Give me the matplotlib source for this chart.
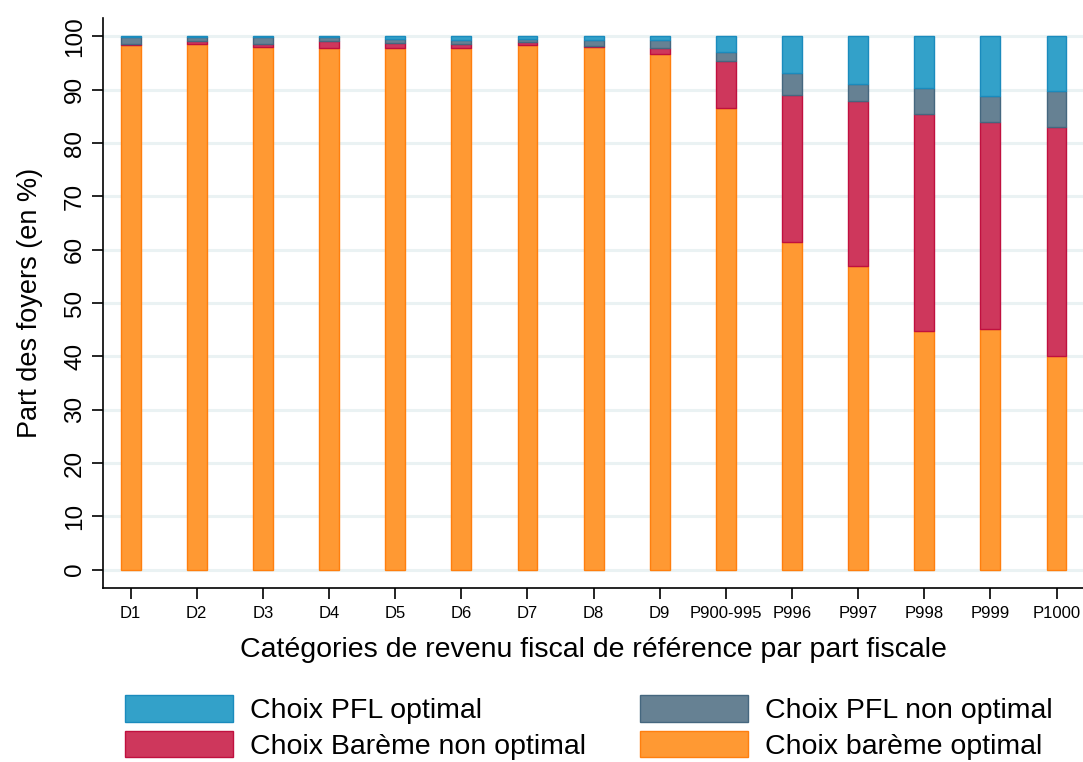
from matplotlib import pyplot as plt
import numpy as np

plt.rcParams['font.family'] = ['Liberation Sans', 'DejaVu Sans']

#### Données ####
categories = ['D1', 'D2', 'D3', 'D4', 'D5', 'D6', 'D7', 'D8', 'D9',
              'P900-995', 'P996', 'P997', 'P998', 'P999', 'P1000']
bareme_optimal = [98.4, 98.5, 98.1, 97.9, 97.75, 97.75, 98.4, 98.0, 96.75,
                  86.6, 61.5, 57.0, 44.8, 45.2, 40.0]
bareme_non_optimal = [0.2, 0.6, 0.5, 1.2, 1.05, 0.85, 0.6, 0.25, 1.15,
                      8.7, 27.6, 30.8, 40.7, 38.8, 43.1]
pfl_non_optimal = [1.3, 0.8, 1.2, 0.7, 0.8, 0.8, 0.6, 1.0, 1.35,
                   1.7, 4.1, 3.3, 4.75, 4.9, 6.7]
pfl_optimal = [0.1, 0.1, 0.2, 0.2, 0.4, 0.6, 0.4, 0.75, 0.75,
               3.0, 6.8, 8.9, 9.75, 11.1, 10.2]

series = [
    (bareme_optimal, u'Choix barème optimal', '#ff9933', '#ff7f0e'),
    (bareme_non_optimal, u'Choix Barème non optimal', '#ce375c', '#c0103f'),
    (pfl_non_optimal, u'Choix PFL non optimal', '#668193', '#45677f'),
    (pfl_optimal, u'Choix PFL optimal', '#33a1c9', '#1a8bbd'),
]

fig = plt.figure(figsize=(10.83, 7.62), dpi=100)
ax = fig.add_axes([0.095, 0.228, 0.905, 0.748])

x = np.arange(len(categories))
bas = np.zeros(len(categories))
barres = {}
for vals, nom, coul, bord in series:
    vals = np.array(vals)
    barres[nom] = ax.bar(x, vals, width=0.3, bottom=bas, color=coul,
                         edgecolor=bord, linewidth=1, label=nom, zorder=3)
    bas = bas + vals

ax.set_xlim(-0.42, 14.4)
ax.set_ylim(-3.5, 103.4)
ax.set_yticks(np.arange(0, 101, 10))
ax.yaxis.grid(True, color='#eaf2f3', linewidth=2.2, zorder=0)
ax.set_xticks(x)
ax.set_xticklabels(categories, fontsize=12)
ax.tick_params(axis='y', labelsize=17.5, length=8, width=1.2, pad=4,
               labelrotation=90)
for lab in ax.get_yticklabels():
    lab.set_verticalalignment('center')
ax.tick_params(axis='x', length=8, width=1.2, pad=5)
for s in ['top', 'right']:
    ax.spines[s].set_visible(False)
for s in ['left', 'bottom']:
    ax.spines[s].set_linewidth(1.2)
ax.set_ylabel('Part des foyers (en %)', fontsize=19.5, labelpad=15)
ax.set_xlabel(u'Catégories de revenu fiscal de référence par part fiscale',
              fontsize=20.5, labelpad=11)

ordre = [u'Choix PFL optimal', u'Choix Barème non optimal',
         u'Choix PFL non optimal', u'Choix barème optimal']
fig.legend([barres[n] for n in ordre], ordre, ncol=2, loc='upper left',
           bbox_to_anchor=(0.102, 0.106), frameon=False, fontsize=20.5,
           handlelength=3.8, handleheight=1.05, handletextpad=0.6,
           columnspacing=1.9, labelspacing=0.22, borderpad=0)

fig.savefig('out.png', dpi=100)
